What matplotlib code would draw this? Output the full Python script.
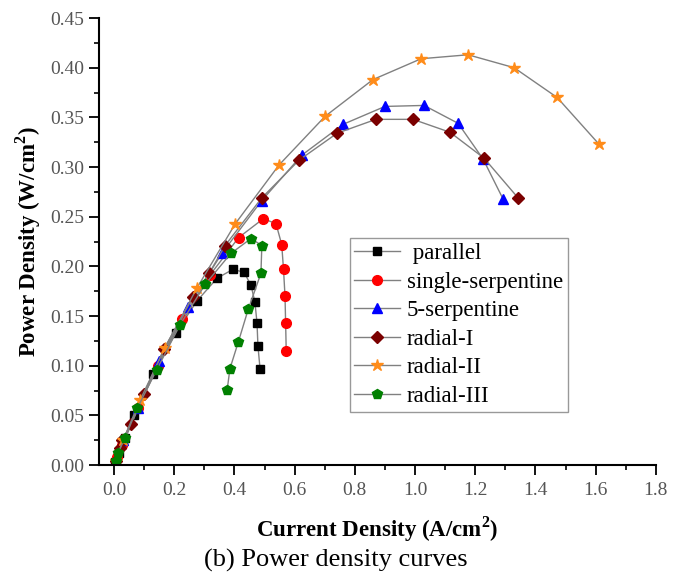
import matplotlib.pyplot as plt
from matplotlib.ticker import MultipleLocator, FormatStrFormatter

# data (current density A/cm2, power density W/cm2)
parallel_x = [0.004, 0.015, 0.035, 0.065, 0.13, 0.205, 0.275, 0.342, 0.395, 0.432, 0.455, 0.468, 0.475, 0.478, 0.485]
parallel_y = [0.003, 0.012, 0.027, 0.050, 0.092, 0.133, 0.165, 0.188, 0.197, 0.194, 0.181, 0.164, 0.143, 0.120, 0.097]

single_x = [0.01, 0.028, 0.08, 0.145, 0.226, 0.318, 0.414, 0.496, 0.538, 0.557, 0.563, 0.568, 0.570, 0.572]
single_y = [0.008, 0.020, 0.057, 0.100, 0.147, 0.191, 0.229, 0.248, 0.243, 0.222, 0.197, 0.170, 0.143, 0.115]

five_x = [0.005, 0.03, 0.08, 0.15, 0.245, 0.358, 0.49, 0.624, 0.761, 0.900, 1.030, 1.143, 1.226, 1.292]
five_y = [0.004, 0.025, 0.057, 0.105, 0.159, 0.213, 0.266, 0.312, 0.343, 0.361, 0.362, 0.344, 0.308, 0.268]

rad1_x = [0.005, 0.02, 0.028, 0.056, 0.10, 0.166, 0.262, 0.316, 0.369, 0.491, 0.615, 0.741, 0.870, 0.993, 1.116, 1.229, 1.342]
rad1_y = [0.004, 0.017, 0.025, 0.041, 0.072, 0.117, 0.169, 0.193, 0.221, 0.269, 0.307, 0.334, 0.348, 0.348, 0.335, 0.309, 0.269]

rad2_x = [0.005, 0.03, 0.086, 0.169, 0.275, 0.403, 0.548, 0.701, 0.860, 1.020, 1.176, 1.329, 1.472, 1.611]
rad2_y = [0.004, 0.025, 0.065, 0.118, 0.178, 0.243, 0.302, 0.351, 0.388, 0.409, 0.413, 0.400, 0.370, 0.323]

rad3_x = [0.007, 0.013, 0.036, 0.077, 0.142, 0.219, 0.303, 0.388, 0.455, 0.491, 0.488, 0.446, 0.413, 0.385, 0.376]
rad3_y = [0.004, 0.012, 0.027, 0.057, 0.096, 0.141, 0.182, 0.213, 0.228, 0.221, 0.193, 0.157, 0.124, 0.097, 0.076]

SERIES = [
    ('parallel', parallel_x, parallel_y, 's', 'black', 6),
    ('single-serpentine', single_x, single_y, 'o', 'red', 7),
    ('5-serpentine', five_x, five_y, '^', 'blue', 7),
    ('radial-I', rad1_x, rad1_y, 'D', '#7b0000', 6),
    ('radial-II', rad2_x, rad2_y, '*', '#ff8c1a', 9),
    ('radial-III', rad3_x, rad3_y, 'p', 'green', 7.5),
]

plt.rcParams['font.family'] = 'Liberation Serif'
plt.rcParams['mathtext.fontset'] = 'custom'
plt.rcParams['mathtext.rm'] = 'Liberation Serif'
plt.rcParams['mathtext.bf'] = 'Liberation Serif:bold'

fig = plt.figure(figsize=(6.85, 5.72), dpi=100)
ax = fig.add_axes([0.1445, 0.187, 0.813, 0.7815])

for name, xs, ys, mk, col, ms in SERIES:
    label = ' parallel' if name == 'parallel' else name
    ax.plot(xs, ys, color='#808080', linewidth=1.0, marker=mk, markersize=ms,
            markerfacecolor=col, markeredgecolor=col, label=label)

ax.set_xlim(-0.05, 1.8)
ax.set_ylim(0, 0.45)
ax.xaxis.set_major_locator(MultipleLocator(0.2))
ax.xaxis.set_minor_locator(MultipleLocator(0.1))
ax.yaxis.set_major_locator(MultipleLocator(0.05))
ax.yaxis.set_minor_locator(MultipleLocator(0.025))
ax.xaxis.set_major_formatter(FormatStrFormatter('%.1f'))
ax.yaxis.set_major_formatter(FormatStrFormatter('%.2f'))

ax.spines['top'].set_visible(False)
ax.spines['right'].set_visible(False)
ax.spines['left'].set_linewidth(1.5)
ax.spines['bottom'].set_linewidth(1.5)
ax.tick_params(which='major', direction='out', length=7, width=1.3,
               labelsize=14, labelcolor='#555555')
ax.tick_params(axis='x', which='major', pad=5)
ax.tick_params(which='minor', direction='out', length=3.5, width=1.2)

ax.set_xlabel('Current Density (A/cm$^\\mathbf{2}$)', fontsize=16.5, fontweight='bold', labelpad=11)
ax.set_ylabel('Power Density (W/cm$^\\mathbf{2}$)', fontsize=16.5, fontweight='bold', labelpad=5)

ax.legend(loc='upper left', bbox_to_anchor=(0.45, 0.507), borderaxespad=0,
          fontsize=16.5, frameon=True, fancybox=False, edgecolor='#808080',
          handlelength=2.0, handletextpad=0.3, labelspacing=0.33,
          borderpad=0.2)

fig.text(0.49, 0.0, '(b) Power density curves', fontsize=19, ha='center', va='bottom')

plt.savefig('out.png', dpi=100, facecolor='white')
